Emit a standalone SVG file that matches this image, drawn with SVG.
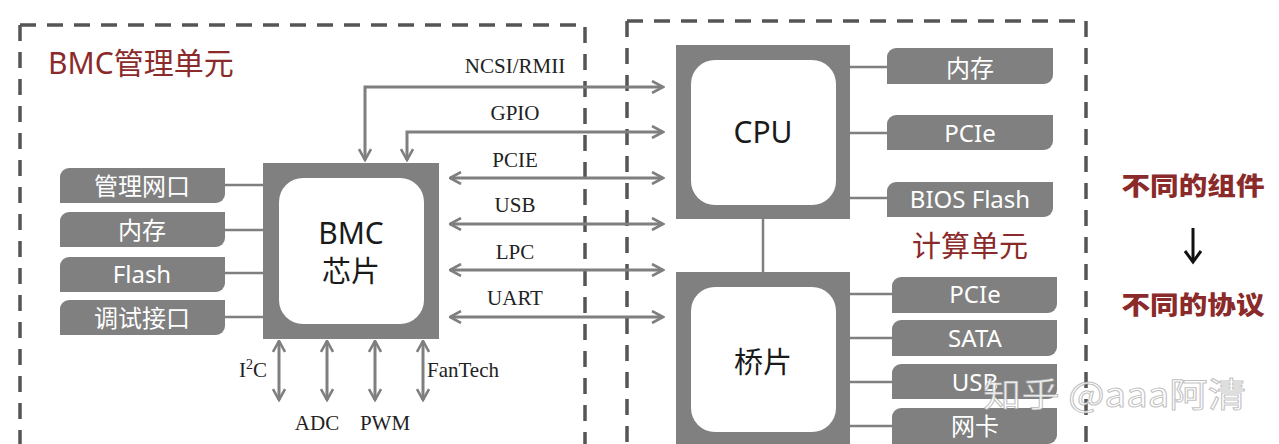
<svg xmlns="http://www.w3.org/2000/svg" width="1279" height="444" viewBox="0 0 1279 444">
  <defs>
    <style>
      .dash { fill: none; stroke: #555555; stroke-width: 3.5; stroke-dasharray: 16 11; }
      .chip { fill: #808080; }
      .core { fill: #ffffff; }
      .pill { fill: #808080; }
      .pilltxt { fill: #ffffff; font-family: "Noto Sans", "Noto Sans CJK SC", sans-serif; font-size: 24px; text-anchor: middle; }
      .chiptxt { fill: #1a1a1a; font-family: "Noto Sans", "Noto Sans CJK SC", sans-serif; font-size: 30px; text-anchor: middle; }
      .bus { fill: #222222; font-family: "Liberation Serif", "DejaVu Serif", serif; font-size: 21px; text-anchor: middle; }
      .bus-left { text-anchor: start; }
      .title { fill: #8b2a2a; font-family: "Noto Sans", "Noto Sans CJK SC", sans-serif; font-size: 30px; }
      .note { fill: #8b2a2a; font-family: "Noto Sans CJK SC", sans-serif; font-size: 25px; font-weight: 900; text-anchor: middle; }
      .wire { fill: none; stroke: #7f7f7f; stroke-width: 3; }
      .link { fill: none; stroke: #7f7f7f; stroke-width: 2.5; }
    </style>
    <marker id="arr" viewBox="0 0 14 14" refX="12.5" refY="7" markerWidth="14" markerHeight="14" markerUnits="userSpaceOnUse" orient="auto-start-reverse">
      <path d="M1.5,1 L12.5,7 L1.5,13" fill="none" stroke="#7f7f7f" stroke-width="2.6"/>
    </marker>
  </defs>

  <rect width="1279" height="444" fill="#ffffff"/>

  <!-- unit frames -->
  <g id="bmc-unit">
    <path class="dash" d="M20,25 V444"/>
    <path class="dash" d="M20,25 H585 V444"/>
    <text class="title" x="48" y="74">BMC管理单元</text>
  </g>
  <g id="compute-unit">
    <path class="dash" d="M627,21 V444"/>
    <path class="dash" d="M627,21 H1086 V444"/>
    <text class="title" x="970" y="257" style="text-anchor: middle; font-size: 29px">计算单元</text>
  </g>

  <!-- connectors -->
  <g id="connectors">
    <!-- BMC peripherals -->
    <path class="link" d="M225,185 H263 M225,230 H263 M225,273 H263 M225,317 H263"/>
    <!-- CPU peripherals -->
    <path class="link" d="M850,67 H887 M850,133 H887 M850,198 H887"/>
    <!-- bridge peripherals -->
    <path class="link" d="M850,294 H892 M850,338 H892 M850,382 H892 M850,426 H892"/>
    <!-- CPU to bridge -->
    <path class="link" d="M763,219 V272"/>
    <!-- buses between BMC and host -->
    <path class="wire" d="M663,87 H365 V160" marker-start="url(#arr)" marker-end="url(#arr)"/>
    <path class="wire" d="M663,132 H407 V160" marker-start="url(#arr)" marker-end="url(#arr)"/>
    <path class="wire" d="M450,178 H663" marker-start="url(#arr)" marker-end="url(#arr)"/>
    <path class="wire" d="M450,224 H663" marker-start="url(#arr)" marker-end="url(#arr)"/>
    <path class="wire" d="M450,270 H663" marker-start="url(#arr)" marker-end="url(#arr)"/>
    <path class="wire" d="M450,317 H663" marker-start="url(#arr)" marker-end="url(#arr)"/>
    <!-- low-speed interfaces -->
    <path class="wire" d="M279,341 V400" marker-start="url(#arr)" marker-end="url(#arr)"/>
    <path class="wire" d="M327,341 V400" marker-start="url(#arr)" marker-end="url(#arr)"/>
    <path class="wire" d="M375,341 V400" marker-start="url(#arr)" marker-end="url(#arr)"/>
    <path class="wire" d="M423,341 V400" marker-start="url(#arr)" marker-end="url(#arr)"/>
  </g>

  <!-- bus labels -->
  <g id="bus-labels">
    <text class="bus" x="515" y="73">NCSI/RMII</text>
    <text class="bus" x="515" y="120">GPIO</text>
    <text class="bus" x="515" y="167">PCIE</text>
    <text class="bus" x="515" y="212">USB</text>
    <text class="bus" x="515" y="259">LPC</text>
    <text class="bus" x="515" y="305">UART</text>
    <text class="bus bus-left" x="239" y="377">I<tspan font-size="14" dy="-8">2</tspan><tspan dy="8">C</tspan></text>
    <text class="bus bus-left" x="427" y="377">FanTech</text>
    <text class="bus" x="317" y="430">ADC</text>
    <text class="bus" x="385" y="430">PWM</text>
  </g>

  <!-- BMC chip -->
  <g id="bmc-chip">
    <rect class="chip" x="263" y="163" width="176" height="176"/>
    <rect class="core" x="279" y="178" width="145" height="146" rx="24"/>
    <text class="chiptxt" x="351" y="244">BMC</text>
    <text class="chiptxt" x="351" y="282" style="font-size: 29px">芯片</text>
  </g>

  <!-- BMC peripherals -->
  <g id="bmc-mgmt-port">
    <path class="pill" d="M69,168 H225 V194 A9,9 0 0 1 216,203 H60 V177 A9,9 0 0 1 69,168 Z"/>
    <text class="pilltxt" x="142" y="195">管理网口</text>
  </g>
  <g id="bmc-memory">
    <path class="pill" d="M69,212 H225 V238 A9,9 0 0 1 216,247 H60 V221 A9,9 0 0 1 69,212 Z"/>
    <text class="pilltxt" x="142" y="239">内存</text>
  </g>
  <g id="bmc-flash">
    <path class="pill" d="M69,257 H225 V283 A9,9 0 0 1 216,292 H60 V266 A9,9 0 0 1 69,257 Z"/>
    <text class="pilltxt" x="142" y="283">Flash</text>
  </g>
  <g id="bmc-debug">
    <path class="pill" d="M69,300 H225 V326 A9,9 0 0 1 216,335 H60 V309 A9,9 0 0 1 69,300 Z"/>
    <text class="pilltxt" x="142" y="327">调试接口</text>
  </g>

  <!-- CPU -->
  <g id="cpu">
    <rect class="chip" x="676" y="45" width="174" height="174"/>
    <rect class="core" x="691" y="60" width="145" height="145" rx="24"/>
    <text class="chiptxt" x="763" y="143">CPU</text>
  </g>
  <g id="cpu-memory">
    <path class="pill" d="M896,48 H1053 V75 A9,9 0 0 1 1044,84 H887 V57 A9,9 0 0 1 896,48 Z"/>
    <text class="pilltxt" x="970" y="77">内存</text>
  </g>
  <g id="cpu-pcie">
    <path class="pill" d="M896,115 H1053 V141 A9,9 0 0 1 1044,150 H887 V124 A9,9 0 0 1 896,115 Z"/>
    <text class="pilltxt" x="970" y="142">PCIe</text>
  </g>
  <g id="cpu-bios">
    <path class="pill" d="M896,182 H1053 V208 A9,9 0 0 1 1044,217 H887 V191 A9,9 0 0 1 896,182 Z"/>
    <text class="pilltxt" x="970" y="208">BIOS Flash</text>
  </g>

  <!-- bridge chip -->
  <g id="bridge">
    <rect class="chip" x="676" y="272" width="174" height="180"/>
    <rect class="core" x="691" y="287" width="145" height="145" rx="24"/>
    <text class="chiptxt" x="763" y="373" style="font-size: 29px">桥片</text>
  </g>
  <g id="bridge-pcie">
    <path class="pill" d="M901,277 H1057 V304 A9,9 0 0 1 1048,313 H892 V286 A9,9 0 0 1 901,277 Z"/>
    <text class="pilltxt" x="975" y="303">PCIe</text>
  </g>
  <g id="bridge-sata">
    <path class="pill" d="M901,320 H1057 V347 A9,9 0 0 1 1048,356 H892 V329 A9,9 0 0 1 901,320 Z"/>
    <text class="pilltxt" x="975" y="347">SATA</text>
  </g>
  <g id="bridge-usb">
    <path class="pill" d="M901,364 H1057 V390 A9,9 0 0 1 1048,399 H892 V373 A9,9 0 0 1 901,364 Z"/>
    <text class="pilltxt" x="975" y="391">USB</text>
  </g>
  <g id="bridge-nic">
    <path class="pill" d="M901,408 H1057 V435 A9,9 0 0 1 1048,444 H892 V417 A9,9 0 0 1 901,408 Z"/>
    <text class="pilltxt" x="975" y="435">网卡</text>
  </g>

  <!-- side note -->
  <g id="side-note">
    <text class="note" x="1193" y="195" textLength="143" lengthAdjust="spacingAndGlyphs">不同的组件</text>
    <path d="M1193,228 V261" fill="none" stroke="#111111" stroke-width="3"/>
    <path d="M1185,251 L1193,262 L1201,251" fill="none" stroke="#111111" stroke-width="3"/>
    <text class="note" x="1193" y="314" textLength="143" lengthAdjust="spacingAndGlyphs">不同的协议</text>
  </g>

  <!-- watermark -->
  <text x="983" y="407" font-family="Noto Sans CJK SC, sans-serif" font-size="34" textLength="263" lengthAdjust="spacingAndGlyphs" fill="#ffffff" fill-opacity="0.85" stroke="#8a8a8a" stroke-opacity="0.55" stroke-width="1">知乎 @aaa阿清</text>
</svg>
